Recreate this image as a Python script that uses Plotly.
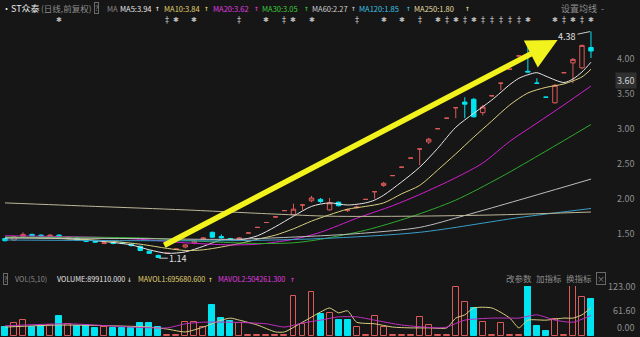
import plotly.graph_objects as go

W, H = 640, 337
BG = "#161616"
RED = "#dc5a5a"
CYAN = "#00e4f2"

# ---------------- data ----------------
idx = list(range(66))
open_ = [1.42, 1.40, 1.45, 1.48, 1.47, 1.45, 1.47, 1.42, 1.43, 1.40,
         1.38, 1.35, 1.36, 1.36, 1.34, 1.31, 1.24, 1.18, 1.21, 1.27,
         1.30, 1.36, 1.41, 1.51, 1.45, 1.42, 1.41, 1.50, 1.58, 1.65,
         1.73, 1.82, 1.76, 1.90, 1.96, 1.98, 1.83, 1.94, 1.82, 1.86,
         1.98, 2.09, 2.18, 2.32, 2.44, 2.57, 2.70, 2.80, 2.99, 3.14,
         3.29, 3.37, 3.41, 3.22, 3.46, 3.64, 3.84, 4.03, 3.81, 3.64,
         3.44, 3.36, 3.79, 3.93, 3.86, 4.15]
high = [1.43, 1.46, 1.51, 1.49, 1.48, 1.48, 1.48, 1.45, 1.44, 1.41,
        1.39, 1.37, 1.37, 1.37, 1.35, 1.32, 1.25, 1.19, 1.21, 1.27,
        1.34, 1.40, 1.44, 1.52, 1.48, 1.43, 1.44, 1.50, 1.58, 1.65,
        1.73, 1.82, 1.92, 1.90, 2.03, 2.00, 2.00, 1.95, 1.85, 1.89,
        1.98, 2.09, 2.23, 2.32, 2.44, 2.57, 2.70, 2.86, 2.99, 3.14,
        3.29, 3.44, 3.43, 3.33, 3.46, 3.64, 3.84, 4.03, 4.23, 3.71,
        3.44, 3.63, 3.79, 4.00, 4.19, 4.38]
low = [1.38, 1.39, 1.44, 1.45, 1.44, 1.44, 1.43, 1.41, 1.39, 1.37,
       1.36, 1.34, 1.34, 1.34, 1.31, 1.24, 1.20, 1.14, 1.21, 1.27,
       1.28, 1.34, 1.40, 1.43, 1.42, 1.40, 1.40, 1.50, 1.58, 1.65,
       1.73, 1.82, 1.75, 1.83, 1.94, 1.93, 1.82, 1.88, 1.80, 1.85,
       1.98, 1.99, 2.16, 2.32, 2.44, 2.57, 2.47, 2.77, 2.99, 3.14,
       3.14, 3.14, 3.15, 3.18, 3.46, 3.54, 3.84, 4.03, 3.80, 3.64,
       3.44, 3.35, 3.79, 3.64, 3.84, 4.00]
close = [1.39, 1.45, 1.48, 1.46, 1.46, 1.47, 1.44, 1.44, 1.40, 1.38,
         1.37, 1.36, 1.35, 1.35, 1.32, 1.25, 1.21, 1.15, 1.21, 1.27,
         1.33, 1.39, 1.43, 1.44, 1.43, 1.41, 1.43, 1.50, 1.58, 1.65,
         1.73, 1.82, 1.84, 1.90, 2.00, 1.95, 1.93, 1.89, 1.83, 1.87,
         1.98, 2.09, 2.21, 2.32, 2.44, 2.57, 2.70, 2.84, 2.99, 3.14,
         3.29, 3.34, 3.16, 3.30, 3.46, 3.64, 3.84, 4.03, 3.80, 3.64,
         3.44, 3.61, 3.79, 3.98, 4.18, 4.10]

volume = [21, 31, 39, 23, 25, 27, 48, 29, 25, 27,
          19, 23, 20, 20, 20, 31, 33, 23, 2, 2,
          34, 34, 23, 76, 44, 37, 32, 2, 2, 2,
          2, 2, 98, 30, 108, 54, 57, 39, 39, 22,
          2, 49, 22, 2, 2, 2, 47, 27, 2, 2,
          120, 84, 69, 34, 2, 32, 2, 2, 123, 25,
          12, 42, 2, 123, 96, 89.9]
vol_up = [0, 1, 1, 0, 0, 1, 0, 1, 0, 0,
          0, 1, 0, 0, 0, 0, 0, 0, 1, 1,
          1, 1, 1, 0, 0, 0, 1, 1, 1, 1,
          1, 1, 1, 1, 1, 0, 1, 0, 0, 1,
          1, 1, 1, 1, 1, 1, 1, 1, 1, 1,
          1, 1, 0, 1, 1, 1, 1, 1, 0, 0,
          0, 1, 1, 1, 1, 0]

ma5_i = [0, 5, 10, 14, 16, 18, 20, 22, 24, 26, 28, 30, 32, 34, 36, 38, 40, 41, 42, 44, 46, 48, 50, 52, 54, 56, 57, 58, 59, 60, 62, 63, 64, 65]
ma5_v = [1.43, 1.43, 1.39, 1.33, 1.26, 1.21, 1.23, 1.31, 1.40, 1.40, 1.46, 1.59, 1.74, 1.88, 1.93, 1.90, 1.93, 1.97, 2.04, 2.23, 2.44, 2.71, 3.01, 3.21, 3.40, 3.62, 3.71, 3.76, 3.79, 3.74, 3.65, 3.70, 3.80, 3.94]
ma10_i = [0, 10, 15, 18, 20, 22, 24, 26, 28, 30, 32, 34, 36, 38, 40, 42, 44, 46, 48, 50, 52, 54, 56, 58, 60, 62, 64, 65]
ma10_v = [1.44, 1.40, 1.34, 1.28, 1.25, 1.26, 1.30, 1.35, 1.41, 1.47, 1.56, 1.67, 1.76, 1.84, 1.88, 1.93, 2.06, 2.18, 2.40, 2.63, 2.87, 3.10, 3.33, 3.50, 3.58, 3.63, 3.73, 3.84]
ma20_i = [0, 10, 15, 20, 25, 28, 30, 32, 35, 39, 43, 46, 50, 53, 56, 59, 62, 65]
ma20_v = [1.46, 1.44, 1.41, 1.36, 1.33, 1.34, 1.37, 1.41, 1.51, 1.71, 1.89, 2.05, 2.29, 2.50, 2.81, 3.07, 3.33, 3.60]
ma30_i = [0, 15, 22, 28, 32, 35, 40, 45, 50, 55, 60, 65]
ma30_v = [1.44, 1.43, 1.38, 1.35, 1.36, 1.41, 1.54, 1.73, 1.97, 2.30, 2.67, 3.05]
ma60_i = [0, 15, 25, 35, 40, 46, 51, 57, 65]
ma60_v = [1.43, 1.42, 1.41, 1.46, 1.50, 1.58, 1.75, 1.97, 2.27]
ma120_i = [0, 15, 25, 35, 46, 57, 65]
ma120_v = [1.40, 1.39, 1.39, 1.42, 1.51, 1.72, 1.85]
ma250_i = [0, 10, 20, 30, 36, 45, 55, 65]
ma250_v = [1.93, 1.88, 1.83, 1.77, 1.74, 1.74, 1.76, 1.80]

mavol1_i = [0, 6, 12, 16, 18, 20, 22, 24, 25, 26, 28, 30, 31, 33, 35, 36, 37, 38, 39, 41, 43, 45, 47, 49, 50, 51, 52, 54, 56, 57, 58, 60, 62, 63, 64, 65]
mavol1_v = [22, 27, 25, 22, 17, 10, 22, 39, 44, 39, 27, 10, 10, 34, 59, 69, 57, 62, 34, 30, 22, 20, 20, 20, 44, 52, 69, 69, 44, 20, 39, 39, 44, 44, 52, 69.6]
mavol2_i = [0, 7, 14, 18, 20, 22, 25, 29, 31, 33, 35, 37, 39, 41, 44, 48, 49, 51, 54, 56, 57, 59, 61, 63, 65]
mavol2_v = [25, 30, 22, 20, 30, 34, 34, 30, 22, 32, 39, 47, 47, 39, 27, 20, 22, 39, 44, 44, 44, 52, 39, 34, 50.4]

price_ticks = [4.00, 3.50, 3.00, 2.50, 2.00, 1.50]
vol_ticks = [123.00, 61.60, 0.00]

event_idx = [6, 18, 19, 21, 26, 29, 31, 32, 34, 39, 42, 44, 46, 48, 49, 50, 51, 52, 53, 54, 55, 56, 57, 58, 61, 62, 63, 64, 65]
event_kind = ['*', '‡', '*', '*', '‡', '*', '‡', '*', '*', '‡', '*', '*', '‡', '*', '‡', '*', '‡', '*', '‡', '‡', '‡', '‡', '‡', '*', '*', '‡', '*', '‡', '*']

ma_labels = ["MA5:3.94", "MA10:3.84", "MA20:3.62", "MA30:3.05", "MA60:2.27", "MA120:1.85", "MA250:1.80"]
ma_colors = ["#e8e8e8", "#e2d470", "#e03ce0", "#3ccc3c", "#cfcfcf", "#3cc4e6", "#e6dfa0"]
ma_series = [(ma5_i, ma5_v), (ma10_i, ma10_v), (ma20_i, ma20_v), (ma30_i, ma30_v),
             (ma60_i, ma60_v), (ma120_i, ma120_v), (ma250_i, ma250_v)]
ma_line_colors = ["#e6e6e6", "#d9cf80", "#d21ed2", "#2eaa2e", "#bdbdbd", "#3a9cc8", "#bdb696"]

title_text = "•ST众泰"
title_sub = "(日线,前复权)"
vol_labels = ["VOLUME:899110.000", "MAVOL1:695680.600", "MAVOL2:504261.300"]
right_btns = ["改参数", "加指标", "换指标"]

# ---------------- layout helpers ----------------
def py(p):
    return 1 - p / H

def px(p):
    return p / W

XR = [-5 / 9.015, -5 / 9.015 + 603 / 9.015]
PRICE_DOM = [py(268), py(25)]
PRICE_RANGE = [4.0 - (268 - 58) / 70.0, 4.0 + (58 - 25) / 70.0]
VOL_DOM = [py(336), py(286)]

fig = go.Figure()

up_flags = []
for i in idx:
    if close[i] > open_[i]:
        up_flags.append(True)
    elif close[i] < open_[i]:
        up_flags.append(False)
    else:
        up_flags.append(i == 0 or close[i] >= close[i - 1])

for flag, col, fill in [(True, RED, BG), (False, CYAN, CYAN)]:
    sel = [i for i in idx if up_flags[i] == flag]
    fig.add_trace(go.Candlestick(
        x=sel, open=[open_[i] for i in sel], high=[high[i] for i in sel],
        low=[low[i] for i in sel], close=[close[i] for i in sel],
        increasing=dict(line=dict(color=col, width=1), fillcolor=fill),
        decreasing=dict(line=dict(color=col, width=1), fillcolor=fill),
        whiskerwidth=0, hoverinfo="skip", xaxis="x", yaxis="y"))

for (mi, mv), c in zip(ma_series, ma_line_colors):
    fig.add_trace(go.Scatter(x=mi, y=mv, mode="lines", line=dict(color=c, width=1, shape="spline", smoothing=0.8),
                             hoverinfo="skip", xaxis="x", yaxis="y"))

fig.add_trace(go.Bar(
    x=idx, y=volume, width=0.66,
    marker=dict(color=[BG if u else CYAN for u in vol_up],
                line=dict(color=[RED if u else CYAN for u in vol_up], width=1)),
    hoverinfo="skip", xaxis="x2", yaxis="y2"))
fig.add_trace(go.Scatter(x=mavol1_i, y=mavol1_v, mode="lines",
                         line=dict(color="#d9cf80", width=1, shape="spline", smoothing=0.6),
                         hoverinfo="skip", xaxis="x2", yaxis="y2"))
fig.add_trace(go.Scatter(x=mavol2_i, y=mavol2_v, mode="lines",
                         line=dict(color="#c030c0", width=1, shape="spline", smoothing=0.6),
                         hoverinfo="skip", xaxis="x2", yaxis="y2"))

ann = []
FONT = "Noto Sans CJK SC, Noto Sans, sans-serif"
ARW = "DejaVu Sans Mono"

def txt(t, x, y, color, size=9, xanchor="left", yanchor="middle", family=FONT, **kw):
    d = dict(text=t, x=x, y=y, xref="paper", yref="paper", showarrow=False,
             xanchor=xanchor, yanchor=yanchor, font=dict(family=family, size=size, color=color))
    d.update(kw)
    ann.append(d)

# header row
HY = py(8)
txt(title_text, px(0), HY, "#e8e8e8", 9)
txt(title_sub, px(39), HY, "#8c8c8c", 8.5)
txt("?", px(94), HY, "#8c8c8c", 7, bordercolor="#6a6a6a", borderwidth=1, borderpad=0)
txt("MA", px(105), HY, "#8c8c8c", 7.5)
ma_x = [118, 162, 211, 260, 310, 357, 412]
ma_arrow_x = [157, 206, 256, 306, 353, 408, 467]
for lab, c, x0, xa in zip(ma_labels, ma_colors, ma_x, ma_arrow_x):
    txt(lab, px(x0), HY, c, 7.5)
    txt("↑", px(xa), HY, c, 8, xanchor="center", family=ARW)
txt("设置均线", px(559), HY, "#8c8c8c", 9)
txt("-", px(599), HY, "#8c8c8c", 9)

# event markers row
for ei, ek in zip(event_idx, event_kind):
    ann.append(dict(text="✱" if ek == "*" else "‡", x=ei, y=py(20), xref="x", yref="paper",
                    showarrow=False, xanchor="center", yanchor="middle",
                    font=dict(family="DejaVu Sans", size=7 if ek == "*" else 8, color="#bdbdbd")))

# price tick labels
for t in price_ticks:
    ann.append(dict(text=f"{t:.2f}", x=px(637), y=t, xref="paper", yref="y", showarrow=False,
                    xanchor="right", yanchor="middle", font=dict(family=FONT, size=9, color="#8f8f8f")))
txt("3.60", px(637), py(80), "#cfcfcf", 9, xanchor="right", bgcolor="#303030", borderpad=1)

# high / low markers
ann.append(dict(text="4.38", x=65, y=max(high), xref="x", yref="y", showarrow=True, arrowhead=0,
                arrowwidth=1, arrowcolor="#cccccc", ax=-24, ay=5, standoff=1,
                font=dict(family=FONT, size=9, color="#e0e0e0")))
ann.append(dict(text="1.14", x=17, y=min(low), xref="x", yref="y", showarrow=True, arrowhead=0,
                arrowwidth=1, arrowcolor="#cccccc", ax=20, ay=0, standoff=1,
                font=dict(family=FONT, size=9, color="#e0e0e0")))

# yellow arrow
ann.append(dict(text="", x=61.3, y=4.257, xref="x", yref="y", ax=17.5, ay=1.314, axref="x", ayref="y",
                showarrow=True, arrowhead=2, arrowsize=1.1, arrowwidth=5.5, arrowcolor="#f2f21c", standoff=0))

# volume header
VY = py(279)
txt("?", px(3), VY, "#8c8c8c", 7, bordercolor="#6a6a6a", borderwidth=1, borderpad=0)
txt("VOL(5,10)", px(13), VY, "#8c8c8c", 7.2)
txt(vol_labels[0], px(55), VY, "#e8e8e8", 7.2)
txt("↓", px(129), VY, "#e8e8e8", 8, xanchor="center", family=ARW)
txt(vol_labels[1], px(136), VY, "#e2d470", 7.2)
txt("↑", px(210), VY, "#e2d470", 8, xanchor="center", family=ARW)
txt(vol_labels[2], px(216), VY, "#e03ce0", 7.2)
txt("↑", px(292), VY, "#e03ce0", 8, xanchor="center", family=ARW)
for b, x0 in zip(right_btns, [504, 534, 564]):
    txt(b, px(x0), py(278), "#8c8c8c", 8.5)
txt("×", px(596), py(278), "#8c8c8c", 8, bordercolor="#6a6a6a", borderwidth=1, borderpad=0)

for v in vol_ticks:
    ann.append(dict(text=f"{v:.2f}", x=px(637), y=v, xref="paper", yref="y2", showarrow=False,
                    xanchor="right", yanchor="bottom" if v == 0 else "middle",
                    font=dict(family=FONT, size=9, color="#8f8f8f")))

axis_common = dict(showgrid=False, zeroline=False, showticklabels=False, showline=False, ticks="")
fig.update_layout(
    width=W, height=H, margin=dict(l=0, r=0, t=0, b=0),
    paper_bgcolor=BG, plot_bgcolor=BG, showlegend=False,
    xaxis=dict(domain=[0, 603 / W], range=XR, rangeslider=dict(visible=False), anchor="y", **axis_common),
    yaxis=dict(domain=PRICE_DOM, range=PRICE_RANGE, anchor="x", **axis_common),
    xaxis2=dict(domain=[0, 603 / W], range=XR, anchor="y2", matches="x", **axis_common),
    yaxis2=dict(domain=VOL_DOM, range=[0, 123], anchor="x2", **axis_common),
    annotations=ann, bargap=0, boxmode="overlay",
)

fig.write_html("out.html")
